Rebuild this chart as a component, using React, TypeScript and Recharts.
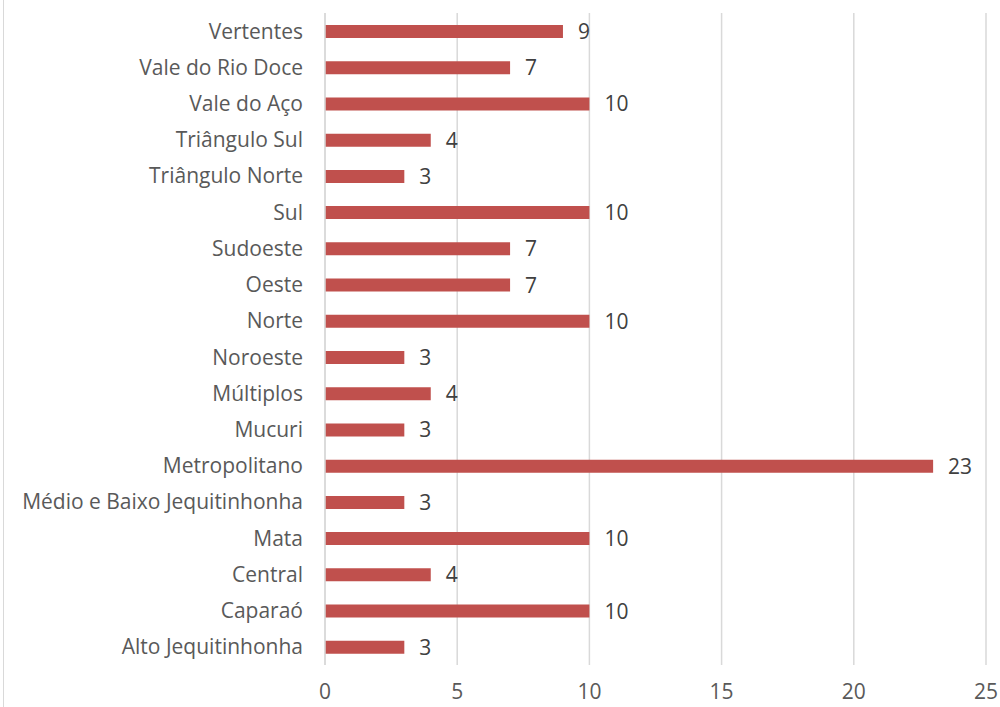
import React from "react";
import { BarChart, Bar, XAxis, YAxis, CartesianGrid, LabelList } from "recharts";

const categories = [
  "Vertentes",
  "Vale do Rio Doce",
  "Vale do Aço",
  "Triângulo Sul",
  "Triângulo Norte",
  "Sul",
  "Sudoeste",
  "Oeste",
  "Norte",
  "Noroeste",
  "Múltiplos",
  "Mucuri",
  "Metropolitano",
  "Médio e Baixo Jequitinhonha",
  "Mata",
  "Central",
  "Caparaó",
  "Alto Jequitinhonha",
];
const values = [9, 7, 10, 4, 3, 10, 7, 7, 10, 3, 4, 3, 23, 3, 10, 4, 10, 3];
const xTicks = [0, 5, 10, 15, 20, 25];

const data = categories.map((name, i) => ({ name, value: values[i] }));

const FONT = "'Open Sans', sans-serif";

export default function App() {
  return (
    <div style={{ position: "absolute", left: 0, top: 0, width: 1000, height: 707, background: "#fff" }}>
      <div style={{ position: "absolute", left: 3, top: 0, width: 1, height: 707, background: "#d9d9d9" }} />
      <BarChart
        width={1000}
        height={707}
        data={data}
        layout="vertical"
        margin={{ top: 13, right: 14, bottom: 0, left: 0 }}
        style={{ fontFamily: FONT }}
      >
        <CartesianGrid horizontal={false} vertical={true} stroke="#d9d9d9" strokeWidth={1.5} />
        <XAxis
          type="number"
          domain={[0, 25]}
          ticks={xTicks}
          axisLine={false}
          tickLine={false}
          tickSize={0}
          tickMargin={19}
          height={42}
          tick={{ fill: "#595959", fontSize: 21, fontFamily: FONT }}
          interval={0}
        />
        <YAxis
          type="category"
          dataKey="name"
          width={325}
          axisLine={{ stroke: "#d9d9d9", strokeWidth: 1.5 }}
          tickLine={false}
          tickSize={0}
          tickMargin={22}
          interval={0}
          tick={{ fill: "#595959", fontSize: 21, fontFamily: FONT }}
        />
        <Bar dataKey="value" fill="#c0504d" barSize={13} isAnimationActive={false}>
          <LabelList dataKey="value" position="right" offset={15} fill="#404040" fontSize={21} fontFamily={FONT} />
        </Bar>
      </BarChart>
    </div>
  );
}
